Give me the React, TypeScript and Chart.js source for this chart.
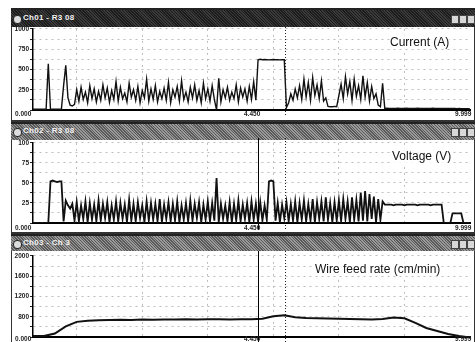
import React, { useEffect, useRef } from "react";
import { Chart, registerables } from "chart.js";
Chart.register(...registerables);

// ---------- data ----------
const SAMPLE_STEP = 0.05; // seconds per sample (current / voltage)
const WIRE_STEP = 0.25; // seconds per sample (wire feed)
const X_MAX = 10;
const cursorSolidT = 5.15;
const cursorDotT = 5.77;
const gridTimes = [1.0, 2.5, 4.0, 5.5, 7.0, 8.5];

const panelTitles = ["Ch01 - R3 08", "Ch02 - R3 08", "Ch03 - Ch 3"];
const panelLabels = ["Current (A)", "Voltage (V)", "Wire feed rate (cm/min)"];
const xTickTexts = ["0.000", "4.450", "9.999"];

// Current (A)
const currentIdle = [10, 10, 10, 10, 10, 10, 10];
const currentStrike = [570, 10, 10, 10, 10, 10, 10, 300, 550, 150, 60, 50, 70];
const currentWeld1 = [
  250, 110, 280, 130, 220, 90, 300, 140, 260, 100,
  230, 120, 310, 150, 270, 95, 240, 130, 350, 110,
  280, 140, 210, 100, 330, 160, 250, 120, 290, 90,
  240, 150, 380, 110, 260, 130, 300, 100, 230, 140,
  270, 120, 340, 90, 250, 160, 290, 110, 360, 130,
  220, 100, 280, 150, 310, 120, 240, 90, 330, 140,
  260, 110, 300, 130, 0, 390, 100, 250, 150, 280,
  120, 220, 140, 310, 100, 270, 160, 260, 110, 290,
  130, 350, 120,
];
const currentPulse = [620, 625, 620, 622, 620, 618, 620, 622, 620, 620, 618, 620, 620];
const currentWeld2 = [30, 90, 200, 120, 260, 150, 300, 130, 380, 160, 340, 120, 400, 180, 310, 140, 360, 110, 150];
const currentGap = [45, 40, 40, 45, 40];
const currentWeld3 = [180, 320, 140, 410, 200, 350, 120, 380, 170, 300, 130, 420, 160, 340, 110, 290, 140, 200];
const currentTail = [60, 40, 330, 20];
const currentEnd = [
  22, 20, 20, 18, 20, 22, 20, 19, 20, 21,
  20, 18, 20, 20, 22, 20, 19, 20, 20, 18,
  20, 21, 20, 20, 19, 20, 18, 20, 20, 19,
  18, 18, 17, 18, 16, 16, 15, 15, 14,
];

// Voltage (V)
const voltIdle = [0, 0, 0, 0, 0, 0, 0, 0];
const voltPreArc = [52, 53, 52, 51, 52, 52, 2, 28, 22, 18];
const voltWeld = [
  24, 3, 26, 2, 22, 5, 27, 1, 25, 4, 23, 2,
  28, 3, 24, 6, 26, 1, 22, 4, 27, 2, 25, 5,
  23, 1, 29, 3, 24, 2, 26, 6, 22, 1, 27, 3,
  25, 4, 24, 2, 30, 1, 23, 5, 26, 2, 24, 3,
  27, 1, 22, 4, 25, 2, 28, 3, 24, 6, 26, 1,
  23, 4, 27, 2, 25, 3, 56, 1, 24, 5, 22, 2,
  26, 1, 24, 3, 28, 2, 23, 5, 25, 1, 27, 4,
  24, 2, 26, 3, 22, 4, 52, 53, 52, 3, 25, 1,
  23, 6, 26, 2, 24, 3, 27, 1, 25, 4, 28, 2,
  24, 3, 30, 1, 26, 5, 27, 2, 32, 4, 25, 1,
  26, 3, 28, 2, 30, 5, 27, 1, 32, 4, 29, 2,
  38, 3, 40, 2, 36, 5, 33, 1, 30, 4, 27, 23,
];
const voltTail = [23, 23, 23, 22, 23, 23, 23, 23, 22, 23, 23, 23, 23, 23, 22, 23, 23, 23, 23, 23, 22, 23, 23, 23, 23, 23];
const voltOff = [0, 0, 0, 0];
const voltBlip = [12, 12, 12, 12, 12];
const voltEnd = [0, 0, 0, 0];

// Wire feed rate (cm/min)
const wireFeed = [
  420, 420, 470, 610, 700, 720, 730, 735, 740, 738,
  745, 742, 748, 745, 750, 748, 752, 750, 748, 752,
  750, 760, 810, 830, 790, 775, 770, 765, 760, 755,
  750, 748, 755, 785, 770, 680, 580, 520, 460, 420,
  390,
];

const currentA = [
  ...currentIdle, ...currentStrike, ...currentWeld1, ...currentPulse,
  ...currentWeld2, ...currentGap, ...currentWeld3, ...currentTail, ...currentEnd,
];
const voltageV = [...voltIdle, ...voltPreArc, ...voltWeld, ...voltTail, ...voltOff, ...voltBlip, ...voltEnd];

// ---------- chart helpers ----------
const cursorPlugin = {
  id: "cursors",
  afterDatasetsDraw(chart: any, _a: any, opts: any) {
    const { ctx, scales, height } = chart;
    (opts.lines || []).forEach((l: any) => {
      const px = Math.round(scales.x.getPixelForValue(l.t)) + 0.5;
      ctx.save();
      ctx.strokeStyle = l.color;
      ctx.lineWidth = l.width;
      ctx.setLineDash(l.dash);
      ctx.beginPath();
      ctx.moveTo(px, 0);
      ctx.lineTo(px, height);
      ctx.stroke();
      ctx.restore();
    });
  },
};

type PanelProps = {
  values: number[];
  step: number;
  yMin: number;
  yMax: number;
  yStep: number;
  labelEvery: number;
  lineWidth: number;
  lines: any[];
  padBottom: number;
};

function PanelChart(p: PanelProps & { style: React.CSSProperties }) {
  const ref = useRef<HTMLCanvasElement>(null);
  useEffect(() => {
    const pts = p.values.map((v, i) => ({ x: i * p.step, y: v }));
    const chart = new Chart(ref.current as HTMLCanvasElement, {
      type: "line",
      data: {
        datasets: [
          {
            data: pts,
            borderColor: "#111",
            borderWidth: p.lineWidth,
            pointRadius: 0,
            tension: 0,
            fill: false,
            borderJoinStyle: "miter",
          },
        ],
      },
      options: {
        animation: false,
        responsive: false,
        maintainAspectRatio: false,
        events: [],
        layout: { padding: { left: 0, right: 5, top: 4, bottom: p.padBottom } },
        plugins: {
          legend: { display: false },
          tooltip: { enabled: false },
          cursors: { lines: p.lines },
        } as any,
        scales: {
          x: {
            type: "linear",
            min: 0,
            max: X_MAX,
            afterBuildTicks: (s: any) => {
              s.ticks = gridTimes.map((v) => ({ value: v }));
            },
            afterFit: (s: any) => {
              s.height = 0;
            },
            ticks: { display: false },
            grid: { color: "#bdbdbd", lineWidth: 1, drawTicks: false },
            border: { display: true, color: "#000", width: 2, dash: [2, 4] },
          },
          y: {
            min: p.yMin,
            max: p.yMax,
            afterFit: (s: any) => {
              s.width = 22;
            },
            ticks: {
              stepSize: p.yStep,
              autoSkip: false,
              padding: 1,
              color: "#222",
              font: { family: "Liberation Sans, Arial, sans-serif", size: 6.5, weight: "bold" },
              callback: (v: any) => (v % p.labelEvery === 0 && v !== p.yMin ? String(v) : ""),
            },
            grid: {
              color: "#bdbdbd",
              lineWidth: 1,
              tickLength: 3,
              tickColor: "#222",
              tickBorderDash: [],
            } as any,
            border: { display: true, color: "#000", width: 1.5, dash: [2, 4] },
          },
        },
      },
      plugins: [cursorPlugin],
    });
    return () => chart.destroy();
  }, []);
  return <canvas ref={ref} width={464} height={Number(p.style.height)} style={{ position: "absolute", ...p.style }} />;
}

function TitleBar({ top, height, text, dark }: { top: number; height: number; text: string; dark: boolean }) {
  const bg = dark
    ? "repeating-linear-gradient(45deg, #1c1c1c 0px, #1c1c1c 1px, #3a3a3a 1px, #3a3a3a 2px)"
    : "repeating-linear-gradient(45deg, #5a5a5a 0px, #5a5a5a 1px, #9a9a9a 1px, #9a9a9a 2px)";
  return (
    <div
      style={{
        position: "absolute",
        left: 11,
        top,
        width: 464,
        height,
        background: bg,
        borderTop: "2px solid #222",
        boxSizing: "border-box",
      }}
    >
      <div
        style={{
          position: "absolute",
          left: 2,
          top: height / 2 - 5,
          width: 7,
          height: 7,
          borderRadius: 4,
          background: "#ddd",
          border: "1px solid #222",
        }}
      />
      <span
        style={{
          position: "absolute",
          left: 12,
          top: height / 2 - 7,
          color: "#f2f2f2",
          font: "bold 8px 'Liberation Sans', Arial, sans-serif",
          letterSpacing: 0.3,
        }}
      >
        {text}
      </span>
      {[0, 1, 2].map((k) => (
        <div
          key={k}
          style={{
            position: "absolute",
            left: 440 + k * 8,
            top: height / 2 - 5,
            width: 6,
            height: 7,
            background: "#d8d8d8",
            border: "1px solid #444",
          }}
        />
      ))}
    </div>
  );
}

const labelFont = "bold 6.5px 'Liberation Sans', Arial, sans-serif";

function XLabels({ top }: { top: number }) {
  return (
    <>
      <span style={{ position: "absolute", left: 15, top, font: labelFont, color: "#222" }}>{xTickTexts[0]}</span>
      <span style={{ position: "absolute", left: 244, top, font: labelFont, color: "#222" }}>{xTickTexts[1]}</span>
      <span style={{ position: "absolute", left: 455, top, font: labelFont, color: "#222" }}>{xTickTexts[2]}</span>
    </>
  );
}

function BigLabel({ text, left, top }: { text: string; left: number; top: number }) {
  return (
    <span
      style={{
        position: "absolute",
        left,
        top,
        font: "12px 'Liberation Sans', Arial, sans-serif",
        color: "#111",
        background: "rgba(255,255,255,0.85)",
        whiteSpace: "nowrap",
      }}
    >
      {text}
    </span>
  );
}

const dotLine = { t: cursorDotT, color: "#222", width: 1, dash: [1, 2] };
const solidLine = { t: cursorSolidT, color: "#000", width: 1, dash: [] };

export default function App() {
  return (
    <div
      style={{
        position: "fixed",
        left: 0,
        top: 0,
        width: 475,
        height: 342,
        overflow: "hidden",
        background: "#fff",
      }}
    >
      {/* panel frames */}
      <div style={{ position: "absolute", left: 11, top: 8, width: 462, height: 112, borderLeft: "1px solid #333", borderRight: "2px solid #333", borderBottom: "2px solid #333" }} />
      <div style={{ position: "absolute", left: 11, top: 122, width: 462, height: 110, borderLeft: "1px solid #333", borderRight: "2px solid #333", borderBottom: "2px solid #333" }} />
      <div style={{ position: "absolute", left: 11, top: 234, width: 462, height: 120, borderLeft: "1px solid #333", borderRight: "2px solid #333" }} />

      <TitleBar top={8} height={19} text={panelTitles[0]} dark={true} />
      <TitleBar top={122} height={18} text={panelTitles[1]} dark={false} />
      <TitleBar top={234} height={17} text={panelTitles[2]} dark={false} />

      <PanelChart
        style={{ left: 11, top: 24, width: 464, height: 93 }}
        values={currentA}
        step={SAMPLE_STEP}
        yMin={0}
        yMax={1000}
        yStep={125}
        labelEvery={250}
        lineWidth={1.4}
        lines={[dotLine]}
        padBottom={7}
      />
      <PanelChart
        style={{ left: 11, top: 138, width: 464, height: 92 }}
        values={voltageV}
        step={SAMPLE_STEP}
        yMin={0}
        yMax={100}
        yStep={12.5}
        labelEvery={25}
        lineWidth={1.8}
        lines={[solidLine, dotLine]}
        padBottom={7}
      />
      <PanelChart
        style={{ left: 11, top: 251, width: 464, height: 91 }}
        values={wireFeed}
        step={WIRE_STEP}
        yMin={400}
        yMax={2000}
        yStep={200}
        labelEvery={400}
        lineWidth={2}
        lines={[solidLine, dotLine]}
        padBottom={4}
      />

      <XLabels top={110} />
      <XLabels top={224} />
      <XLabels top={335} />

      <BigLabel text={panelLabels[0]} left={390} top={35} />
      <BigLabel text={panelLabels[1]} left={392} top={149} />
      <BigLabel text={panelLabels[2]} left={315} top={262} />
    </div>
  );
}
